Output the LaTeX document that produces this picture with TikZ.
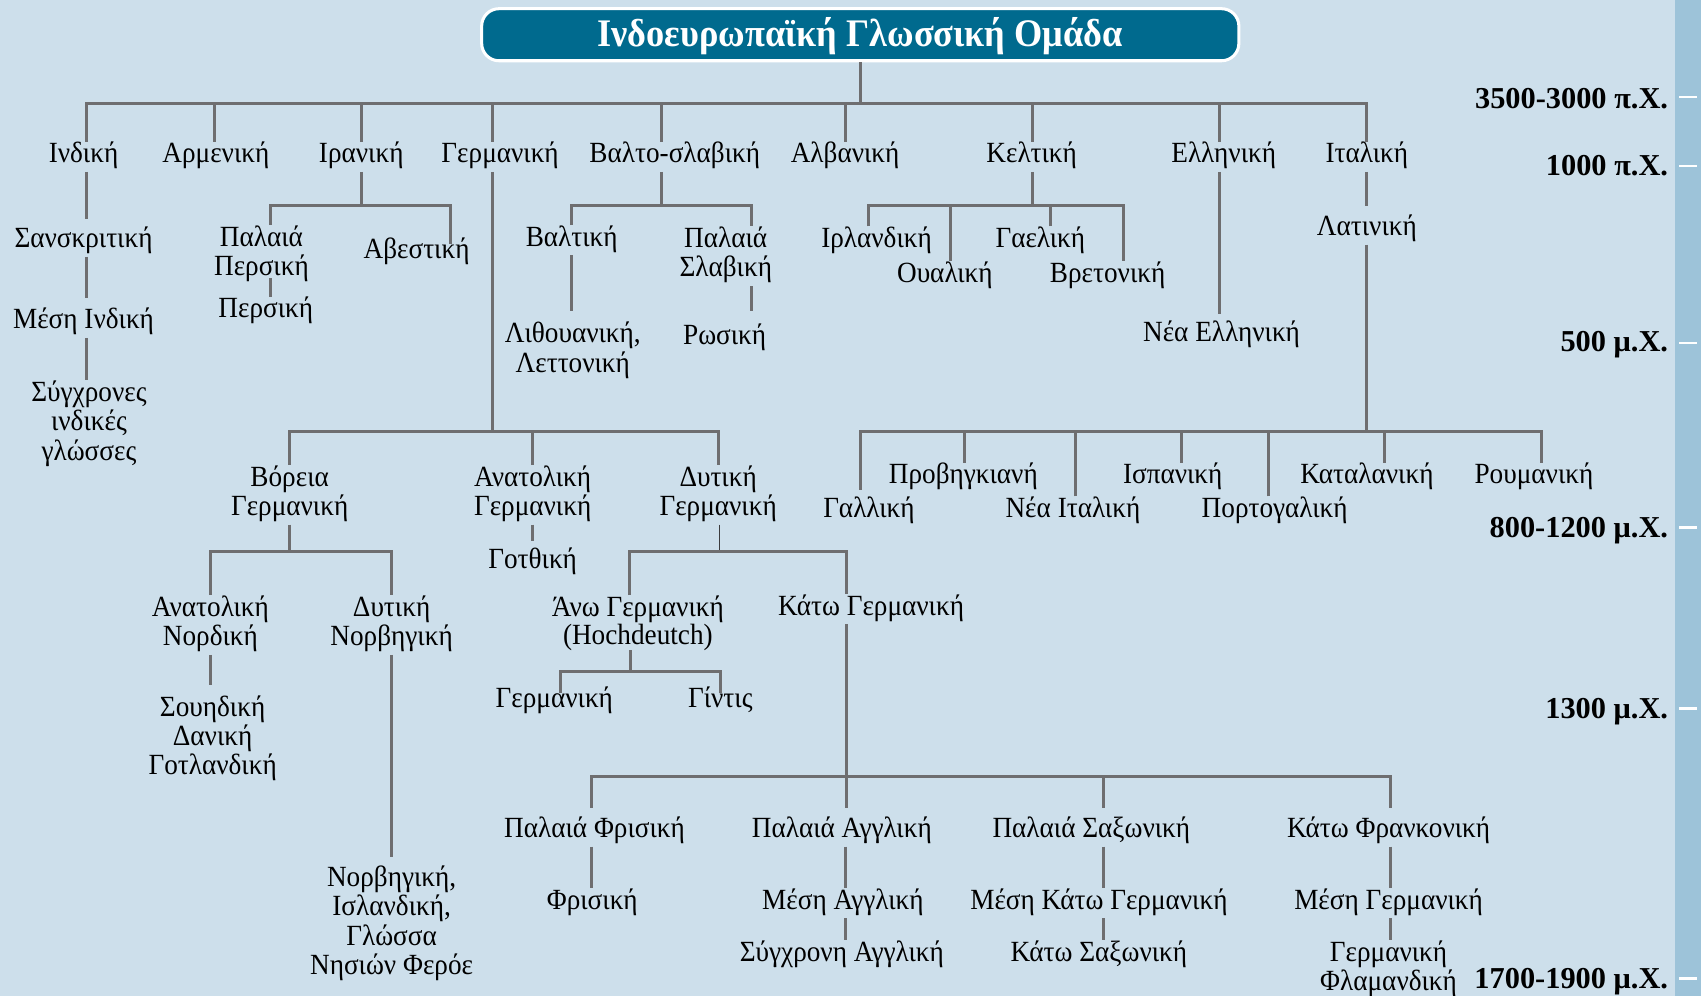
\documentclass[tikz,border=0pt]{standalone}
\usepackage{fontspec}
\setmainfont[FakeStretch=0.93]{Liberation Serif}
\newfontfamily\tlfont{Liberation Serif}
\definecolor{bg}{RGB}{205,223,235}
\definecolor{stripc}{RGB}{157,195,217}
\definecolor{titlefill}{RGB}{0,106,142}
\definecolor{lngray}{RGB}{110,110,112}
\definecolor{thingray}{RGB}{60,60,62}
\newcommand\lblfont{\fontsize{13.5}{13.5}\selectfont}
\newcommand\ml[1]{\begin{tabular}[t]{@{}c@{}}#1\end{tabular}}
\newcommand\lab[3]{\node[lbl] (#1) at (#2) {\ml{#3}};}
\begin{document}
\begin{tikzpicture}[x=0.5pt,y=-0.5pt,
  lbl/.style={font=\lblfont, inner sep=0pt, anchor=base},
  ln/.style={draw=lngray, line width=1.4pt},
  thinln/.style={draw=thingray, line width=0.6pt},
  titlebox/.style={draw=white, line width=1.4pt, fill=titlefill, rounded corners=8pt,
    minimum width=349pt, minimum height=24pt, inner sep=0pt, text=white,
    text height=13pt, text depth=2pt,
    font=\bfseries\fontsize{18}{20}\selectfont},
  tl/.style={anchor=base east, inner sep=0pt, font=\tlfont\bfseries\fontsize{14}{15}\selectfont},
  tick/.style={draw=white, line width=1.2pt}]
\useasboundingbox (0,0) rectangle (1568,918);
\fill[bg] (0,0) rectangle (1568,918);
\fill[stripc] (1544,0) rectangle (1568,918);

% title
\node[titlebox] (title) at (793,32) {Ινδοευρωπαϊκή Γλωσσική Ομάδα};

% timeline
\node[tl] (t1) at (1538,100) {3500-3000 π.Χ.};
\node[tl] (t2) at (1538,162) {1000 π.Χ.};
\node[tl] (t3) at (1538,324) {500 μ.Χ.};
\node[tl] (t4) at (1538,495) {800-1200 μ.Χ.};
\node[tl] (t5) at (1538,662) {1300 μ.Χ.};
\node[tl] (t6) at (1538,911) {1700-1900 μ.Χ.};
\foreach \y in {89.5,153,316,486,653,902} \draw[tick] (1548,\y) -- (1564,\y);

% level 1
\lab{ind}{77,150}{Ινδική}
\lab{arm}{199,150}{Αρμενική}
\lab{iran}{333,150}{Ιρανική}
\lab{germ}{461,150}{Γερμανική}
\lab{balto}{622,150}{Βαλτο-σλαβική}
\lab{alb}{779,150}{Αλβανική}
\lab{kelt}{951,150}{Κελτική}
\lab{ell}{1128,150}{Ελληνική}
\lab{ital}{1260,150}{Ιταλική}

% Indic
\lab{sansk}{77,228}{Σανσκριτική}
\lab{mesind}{77,303}{Μέση Ινδική}
\lab{sygind}{82,370}{Σύγχρονες\\ινδικές\\γλώσσες}
% Iranian
\lab{palpers}{241,227}{Παλαιά\\Περσική}
\lab{avest}{384,238}{Αβεστική}
\lab{pers}{245,293}{Περσική}
% Balto-Slavic
\lab{balt}{527,227}{Βαλτική}
\lab{palsl}{669,228}{Παλαιά\\Σλαβική}
\lab{lith}{528,316}{Λιθουανική,\\Λεττονική}
\lab{ros}{668,318}{Ρωσική}
% Celtic
\lab{irl}{808,228}{Ιρλανδική}
\lab{oual}{871,260}{Ουαλική}
\lab{gael}{959,228}{Γαελική}
\lab{vret}{1021,260}{Βρετονική}
% Greek
\lab{neaell}{1126,315}{Νέα Ελληνική}
% Italic
\lab{lat}{1260,217}{Λατινική}
\lab{gal}{801,477}{Γαλλική}
\lab{prov}{888,446}{Προβηγκιανή}
\lab{neait}{989,477}{Νέα Ιταλική}
\lab{isp}{1081,446}{Ισπανική}
\lab{port}{1175,477}{Πορτογαλική}
\lab{katal}{1260,446}{Καταλανική}
\lab{roum}{1414,446}{Ρουμανική}
% Germanic
\lab{vorg}{267,448}{Βόρεια\\Γερμανική}
\lab{anatg}{491,448}{Ανατολική\\Γερμανική}
\lab{dytg}{662,448}{Δυτική\\Γερμανική}
\lab{goth}{491,524}{Γοτθική}
\lab{anatn}{194,568}{Ανατολική\\Νορδική}
\lab{dytn}{361,568}{Δυτική\\Νορβηγική}
\lab{soued}{196,660}{Σουηδική\\Δανική\\Γοτλανδική}
\lab{norv}{361,817}{Νορβηγική,\\Ισλανδική,\\Γλώσσα\\Νησιών Φερόε}
\lab{anog}{588,568}{Άνω Γερμανική\\[-0.5pt](Hochdeutch)}
\lab{katog}{803,567}{Κάτω Γερμανική}
\lab{germn}{511,652}{Γερμανική}
\lab{gint}{664,652}{Γίντις}
\lab{palfr}{548,772}{Παλαιά Φρισική}
\lab{palag}{776,772}{Παλαιά Αγγλική}
\lab{palsax}{1006,772}{Παλαιά Σαξωνική}
\lab{katfr}{1280,772}{Κάτω Φρανκονική}
\lab{fris}{546,838}{Φρισική}
\lab{mesag}{777,838}{Μέση Αγγλική}
\lab{meskg}{1013,838}{Μέση Κάτω Γερμανική}
\lab{mesg}{1280,838}{Μέση Γερμανική}
\lab{sygag}{776,886}{Σύγχρονη Αγγλική}
\lab{katsax}{1013,886}{Κάτω Σαξωνική}
\lab{flam}{1280,886}{Γερμανική\\Φλαμανδική}

% junction coordinates
\coordinate (r0) at (793,95);
\coordinate (iranbar) at (333,189);
\coordinate (baltbar) at (610,189);
\coordinate (keltbar) at (951.7,189);
\coordinate (italbar) at (1260,398);
\coordinate (germbar) at (454,398);
\coordinate (vorgbar) at (267,508);
\coordinate (dytgbar) at (663,508.5);
\coordinate (anobar) at (581,619);
\coordinate (katbar) at (780,716);

% root
\draw[ln] (title) -- (r0);
\draw[ln] (ind.north -| 80,0) |- (r0) -| (ital.north -| 1260,0);
\foreach \n/\x in {arm/198,iran/333,germ/454,balto/610,alb/779,kelt/951.7,ell/1124}
  \draw[ln] (\n.north -| \x,0) -- (r0 -| \x,0);

% Indic chain
\draw[ln, shorten >=3.5pt] (ind.south -| 80,0) -- (sansk.north -| 80,0);
\draw[ln, shorten >=4.5pt] (sansk.south -| 80,0) -- (mesind.north -| 80,0);
\draw[ln] (mesind.south -| 80,0) -- (sygind.north -| 80,0);

% Iranian
\draw[ln] (iran.south) -- (iranbar);
\draw[ln, shorten >=-3pt] (palpers.north -| 249.5,0) |- (iranbar) -| (avest.north -| 415,0);
\draw[ln, shorten <=-3pt] (palpers.south -| 249.5,0) -- (pers.north -| 249.5,0);

% Balto-Slavic
\draw[ln] (balto.south -| 610,0) -- (baltbar);
\draw[ln] (balt.north -| 527,0) |- (baltbar) -| (palsl.north -| 693,0);
\draw[ln, shorten >=5pt] (balt.south -| 527,0) -- (lith.north -| 527,0);
\draw[ln, shorten >=6pt] (palsl.south -| 693,0) -- (ros.north -| 693,0);

% Celtic
\draw[ln] (kelt.south -| 951.7,0) -- (keltbar);
\draw[ln] (irl.north -| 801,0) |- (keltbar) -| (vret.north -| 1036,0);
\draw[ln] (oual.north -| 876,0) -- (keltbar -| 876,0);
\draw[ln] (gael.north -| 968.6,0) -- (keltbar -| 968.6,0);

% Greek
\draw[ln, shorten >=3pt] (ell.south -| 1124,0) -- (neaell.north -| 1124,0);

% Italic
\draw[ln, shorten >=4pt] (ital.south) -- (lat.north);
\draw[ln] (lat.south) -- (italbar);
\draw[ln, shorten <=3pt] (gal.north -| 793,0) |- (italbar) -| (roum.north -| 1421,0);
\foreach \n/\x in {prov/889,neait/991,isp/1089,port/1169,katal/1276}
  \draw[ln] (\n.north -| \x,0) -- (italbar -| \x,0);

% Germanic
\draw[ln] (germ.south -| 454,0) -- (germbar);
\draw[ln] (vorg.north -| 267,0) |- (germbar) -| (dytg.north -| 662,0);
\draw[ln] (anatg.north -| 491,0) -- (germbar -| 491,0);
\draw[ln, shorten >=3pt] (anatg.south -| 491,0) -- (goth.north -| 491,0);

% North Germanic
\draw[ln] (vorg.south) -- (vorgbar);
\draw[ln] (anatn.north -| 194,0) |- (vorgbar) -| (dytn.north -| 361,0);
\draw[ln, shorten >=4.5pt] (anatn.south -| 194,0) -- (soued.north -| 194,0);
\draw[ln, shorten >=4pt] (dytn.south -| 361,0) -- (norv.north -| 361,0);

% West Germanic
\draw[thinln] (dytg.south -| 663,0) -- (dytgbar);
\draw[ln] (anog.north -| 580,0) |- (dytgbar) -| (katog.north -| 780,0);
\draw[ln] (katog.south -| 780,0) -- (katbar);
\draw[ln, shorten <=-1.5pt] (anog.south -| 581,0) -- (anobar);
\draw[ln, shorten <=-3pt, shorten >=-3pt] (germn.north -| 517,0) |- (anobar) -| (gint.north -| 664,0);

% Low German branch
\draw[ln, shorten <=4pt, shorten >=4pt] (palfr.north -| 545,0) |- (katbar) -| (katfr.north -| 1282,0);
\draw[ln, shorten <=4pt] (palag.north -| 780,0) -- (katbar);
\draw[ln, shorten <=4pt] (palsax.north -| 1017,0) -- (katbar -| 1017,0);

\draw[ln] (palfr.south -| 545,0) -- (fris.north -| 545,0);
\draw[ln] (palag.south -| 779,0) -- (mesag.north -| 779,0);
\draw[ln] (mesag.south -| 779,0) -- (sygag.north -| 779,0);
\draw[ln] (palsax.south -| 1017,0) -- (meskg.north -| 1017,0);
\draw[ln] (meskg.south -| 1017,0) -- (katsax.north -| 1017,0);
\draw[ln] (katfr.south -| 1282,0) -- (mesg.north -| 1282,0);
\draw[ln] (mesg.south -| 1282,0) -- (flam.north -| 1282,0);
\end{tikzpicture}
\end{document}
